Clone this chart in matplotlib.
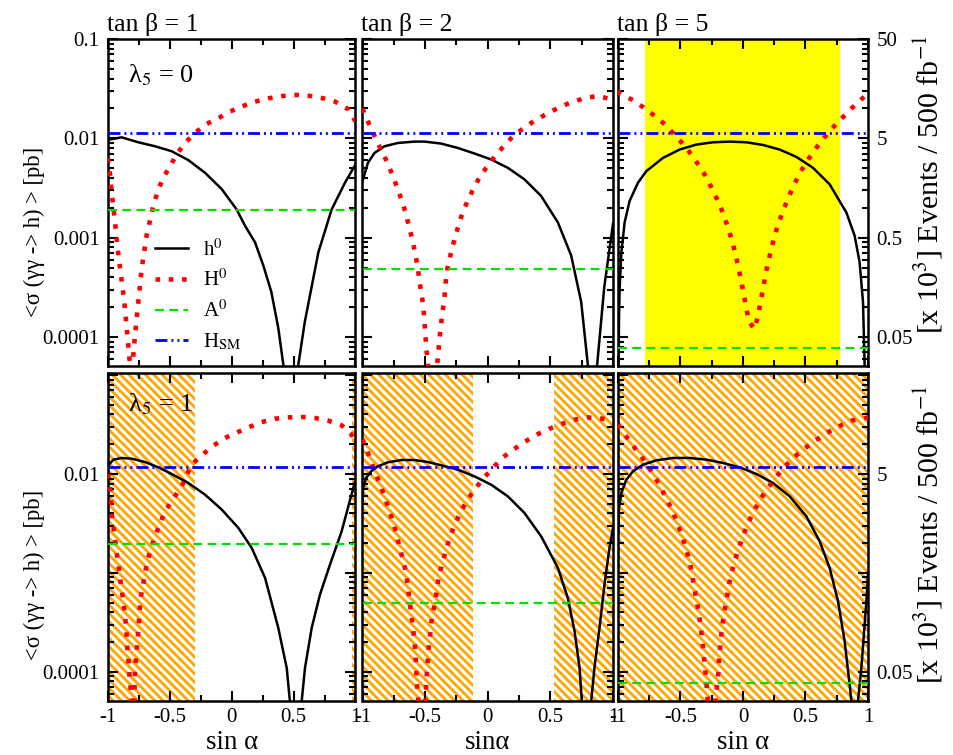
import numpy as np
import matplotlib
matplotlib.use("Agg")
import matplotlib.pyplot as plt
from matplotlib.ticker import FixedLocator, FuncFormatter, NullFormatter

plt.rcParams['font.family'] = ['Liberation Serif', 'DejaVu Serif']
plt.rcParams['mathtext.fontset'] = 'stix'
plt.rcParams['hatch.linewidth'] = 2.2

# ---------------- data (log10 of <sigma> in pb) ----------------
# tan(beta)=1, lambda5=0
x_h_t1_l0 = [-1.0, -0.99, -0.89, -0.755, -0.62, -0.486, -0.35, -0.216, -0.08, 0.04, 0.107, 0.188, 0.255, 0.32, 0.376, 0.417, 0.478, 0.538, 0.59, 0.70, 0.807, 0.915, 1.0]
y_h_t1_l0 = [-2.02, -2.013, -1.99, -2.04, -2.08, -2.13, -2.22, -2.347, -2.513, -2.717, -2.88, -3.047, -3.28, -3.547, -3.91, -4.28, -7.0, -4.28, -3.85, -3.147, -2.717, -2.447, -2.263]
x_H_t1_l0 = [-1.0, -0.99, -0.97, -0.943, -0.922, -0.895, -0.868, -0.849, -0.822, -0.81, -0.795, -0.782, -0.755, -0.728, -0.688, -0.634, -0.593, -0.553, -0.499, -0.445, -0.378, -0.297, -0.216, -0.108, -0.014, 0.08, 0.188, 0.296, 0.417, 0.525, 0.632, 0.74, 0.834, 0.942, 1.0]
y_H_t1_l0 = [-2.2, -2.28, -2.547, -2.847, -3.113, -3.38, -3.647, -3.913, -4.28, -5.0, -4.18, -3.98, -3.647, -3.313, -2.98, -2.68, -2.513, -2.397, -2.28, -2.163, -2.047, -1.947, -1.863, -1.797, -1.73, -1.68, -1.63, -1.597, -1.573, -1.563, -1.573, -1.597, -1.63, -1.707, -1.83]

# tan(beta)=2, lambda5=0
x_h_t2_l0 = [-1.0, -0.957, -0.904, -0.824, -0.718, -0.585, -0.505, -0.372, -0.239, -0.106, 0.027, 0.16, 0.293, 0.426, 0.56, 0.666, 0.746, 0.8, 0.836, 0.872, 0.93, 1.0]
y_h_t2_l0 = [-2.43, -2.247, -2.147, -2.08, -2.047, -2.033, -2.033, -2.053, -2.097, -2.153, -2.213, -2.297, -2.413, -2.58, -2.847, -3.18, -3.647, -4.29, -7.0, -4.3, -3.5, -2.86]
x_H_t2_l0 = [-1.0, -0.984, -0.939, -0.891, -0.846, -0.798, -0.758, -0.718, -0.683, -0.651, -0.625, -0.598, -0.577, -0.558, -0.545, -0.526, -0.513, -0.505, -0.497, -0.489, -0.478, -0.44, -0.404, -0.393, -0.383, -0.372, -0.359, -0.345, -0.337, -0.324, -0.3, -0.273, -0.244, -0.212, -0.172, -0.127, -0.074, -0.013, 0.054, 0.12, 0.195, 0.28, 0.373, 0.472, 0.568, 0.666, 0.772, 0.879, 0.985, 1.0]
y_H_t2_l0 = [-1.70, -1.753, -1.88, -2.013, -2.13, -2.253, -2.38, -2.513, -2.637, -2.773, -2.907, -3.04, -3.173, -3.307, -3.447, -3.58, -3.713, -3.853, -3.997, -4.13, -4.263, -5.0, -4.28, -4.13, -3.997, -3.863, -3.73, -3.597, -3.463, -3.32, -3.187, -3.053, -2.923, -2.79, -2.663, -2.54, -2.413, -2.297, -2.187, -2.09, -1.987, -1.903, -1.823, -1.753, -1.69, -1.637, -1.597, -1.573, -1.607, -1.62]

# tan(beta)=5, lambda5=0
x_h_t5_l0 = [-1.0, -0.992, -0.987, -0.973, -0.947, -0.907, -0.84, -0.773, -0.64, -0.507, -0.373, -0.24, -0.107, 0.027, 0.16, 0.293, 0.427, 0.56, 0.693, 0.827, 0.893, 0.933, 0.96, 0.973, 0.985]
y_h_t5_l0 = [-5.0, -3.813, -3.513, -3.147, -2.847, -2.63, -2.447, -2.33, -2.197, -2.113, -2.063, -2.04, -2.033, -2.04, -2.067, -2.113, -2.187, -2.297, -2.463, -2.747, -2.98, -3.247, -3.647, -4.28, -7.0]
x_H_t5_l0 = [-1.0, -0.987, -0.885, -0.795, -0.707, -0.621, -0.547, -0.472, -0.408, -0.344, -0.285, -0.24, -0.192, -0.152, -0.117, -0.085, -0.059, -0.035, -0.013, 0.008, 0.027, 0.048, 0.093, 0.12, 0.139, 0.16, 0.179, 0.2, 0.227, 0.253, 0.285, 0.323, 0.363, 0.408, 0.459, 0.512, 0.576, 0.64, 0.715, 0.792, 0.867, 0.947, 1.0]
y_H_t5_l0 = [-1.52, -1.547, -1.613, -1.69, -1.773, -1.863, -1.967, -2.067, -2.173, -2.29, -2.407, -2.53, -2.653, -2.78, -2.913, -3.04, -3.173, -3.307, -3.447, -3.58, -3.713, -3.847, -3.92, -3.787, -3.653, -3.52, -3.38, -3.253, -3.113, -2.98, -2.853, -2.72, -2.597, -2.47, -2.34, -2.23, -2.113, -2.007, -1.897, -1.797, -1.7, -1.607, -1.55]

# tan(beta)=1, lambda5=1
x_h_t1_l1 = [-1.0, -0.992, -0.957, -0.89, -0.809, -0.701, -0.593, -0.486, -0.351, -0.216, -0.081, 0.053, 0.161, 0.269, 0.376, 0.444, 0.47, 0.515, 0.565, 0.592, 0.646, 0.713, 0.794, 0.888, 1.0]
y_h_t1_l1 = [-1.95, -1.906, -1.855, -1.838, -1.845, -1.879, -1.933, -2.0, -2.091, -2.209, -2.36, -2.545, -2.747, -3.05, -3.556, -3.96, -4.3, -7.0, -4.3, -3.96, -3.556, -3.219, -2.916, -2.58, -2.057]
x_H_t1_l1 = [-1.0, -0.984, -0.97, -0.957, -0.943, -0.93, -0.916, -0.903, -0.89, -0.876, -0.863, -0.855, -0.849, -0.844, -0.836, -0.83, -0.822, -0.809, -0.8, -0.782, -0.768, -0.755, -0.748, -0.741, -0.728, -0.706, -0.688, -0.655, -0.62, -0.58, -0.539, -0.472, -0.405, -0.365, -0.329, -0.243, -0.162, -0.068, 0.032, 0.134, 0.242, 0.35, 0.457, 0.565, 0.673, 0.78, 0.888, 0.969, 1.0]
y_H_t1_l1 = [-2.0, -2.108, -2.394, -2.529, -2.663, -2.798, -2.916, -3.05, -3.168, -3.286, -3.421, -3.539, -3.64, -3.758, -3.859, -3.976, -4.111, -4.263, -5.0, -3.976, -3.791, -3.589, -3.45, -3.32, -3.185, -3.05, -2.906, -2.764, -2.63, -2.505, -2.377, -2.249, -2.125, -2.02, -1.912, -1.811, -1.727, -1.643, -1.586, -1.529, -1.475, -1.441, -1.428, -1.424, -1.434, -1.461, -1.508, -1.603, -1.72]

# tan(beta)=2, lambda5=1
x_h_t2_l1 = [-1.0, -0.995, -0.971, -0.931, -0.878, -0.798, -0.691, -0.585, -0.478, -0.372, -0.239, -0.106, 0.027, 0.16, 0.293, 0.426, 0.56, 0.639, 0.693, 0.733, 0.751, 0.79, 0.826, 0.852, 0.892, 0.932, 0.972, 1.0]
y_h_t2_l1 = [-2.25, -2.141, -2.04, -1.973, -1.923, -1.882, -1.859, -1.859, -1.879, -1.912, -1.956, -2.024, -2.108, -2.226, -2.394, -2.63, -2.949, -3.253, -3.589, -3.96, -4.296, -7.0, -4.296, -3.96, -3.556, -3.118, -2.747, -2.545]
x_H_t2_l1 = [-1.0, -0.949, -0.912, -0.872, -0.832, -0.798, -0.763, -0.731, -0.705, -0.678, -0.651, -0.638, -0.625, -0.611, -0.598, -0.585, -0.577, -0.572, -0.566, -0.558, -0.525, -0.492, -0.486, -0.478, -0.47, -0.457, -0.446, -0.425, -0.406, -0.393, -0.364, -0.335, -0.303, -0.263, -0.218, -0.164, -0.1, -0.031, 0.041, 0.115, 0.203, 0.293, 0.389, 0.488, 0.589, 0.693, 0.799, 0.914, 1.0]
y_H_t2_l1 = [-1.65, -1.811, -1.939, -2.067, -2.199, -2.327, -2.461, -2.596, -2.731, -2.865, -3.0, -3.135, -3.269, -3.411, -3.545, -3.69, -3.825, -3.966, -4.101, -4.236, -5.0, -4.152, -4.01, -3.875, -3.731, -3.596, -3.455, -3.32, -3.178, -3.044, -2.909, -2.774, -2.64, -2.512, -2.387, -2.266, -2.148, -2.04, -1.939, -1.838, -1.754, -1.677, -1.603, -1.545, -1.495, -1.451, -1.428, -1.441, -1.46]

# tan(beta)=5, lambda5=1
x_h_t5_l1 = [-1.0, -0.992, -0.973, -0.933, -0.88, -0.8, -0.693, -0.56, -0.427, -0.293, -0.16, -0.027, 0.107, 0.24, 0.373, 0.507, 0.613, 0.693, 0.76, 0.813, 0.853, 0.867, 0.893, 0.92, 0.947, 0.987, 1.0]
y_h_t5_l1 = [-2.6, -2.343, -2.192, -2.057, -1.973, -1.906, -1.862, -1.838, -1.838, -1.855, -1.889, -1.933, -2.0, -2.091, -2.226, -2.428, -2.68, -2.949, -3.286, -3.69, -4.128, -4.296, -7.0, -4.296, -3.96, -3.286, -3.017]
x_H_t5_l1 = [-1.0, -0.987, -0.925, -0.861, -0.795, -0.733, -0.677, -0.627, -0.576, -0.533, -0.496, -0.461, -0.432, -0.408, -0.392, -0.373, -0.352, -0.339, -0.325, -0.315, -0.304, -0.293, -0.285, -0.25, -0.219, -0.208, -0.197, -0.192, -0.181, -0.171, -0.157, -0.139, -0.12, -0.101, -0.072, -0.04, -0.005, 0.035, 0.08, 0.133, 0.192, 0.259, 0.328, 0.408, 0.491, 0.579, 0.669, 0.765, 0.867, 0.973, 1.0]
y_H_t5_l1 = [-1.50, -1.529, -1.636, -1.744, -1.855, -1.973, -2.091, -2.215, -2.343, -2.471, -2.596, -2.731, -2.865, -3.0, -3.135, -3.269, -3.411, -3.545, -3.684, -3.825, -3.96, -4.101, -4.236, -5.0, -4.28, -4.145, -4.01, -3.875, -3.731, -3.596, -3.455, -3.32, -3.178, -3.044, -2.909, -2.774, -2.646, -2.512, -2.394, -2.269, -2.152, -2.04, -1.933, -1.832, -1.744, -1.663, -1.586, -1.519, -1.461, -1.434, -1.43]

# constant levels (pb)
hsm_level = [0.0113, 0.0117]                 # per row (lambda5 = 0, 1)
a0_level = [[0.00192, 0.00048, 7.7e-5],      # lambda5 = 0 : tanb = 1, 2, 5
            [0.00198, 0.00049, 7.75e-5]]     # lambda5 = 1
# shaded regions in sin(alpha)
yellow_band = [[], [], [(-0.78, 0.78)]]
hatch_bands = [[(-1.0, -0.30), (0.97, 1.0)],
               [(-1.0, -0.12), (0.525, 1.0)],
               [(-1.0, 1.0)]]

tanb_titles = ["tan β = 1", "tan β = 2", "tan β = 5"]
lam_labels = ["λ$_5$ = 0", "λ$_5$ = 1"]
xlabels = ["sin α", "sinα", "sin α"]
xticks = [-1, -0.5, 0, 0.5, 1]
ylim_rows = [(5.1e-5, 0.1), (5.06e-5, 0.105)]
ylab_rows = [[0.1, 0.01, 0.001, 0.0001], [0.01, 0.0001]]
rlab_rows = [[50, 5, 0.5, 0.05], [5, 0.05]]
events_factor = 500.0   # [x 10^3 events / 500 fb^-1] per pb

curves = {
    (0, 0): (x_h_t1_l0, y_h_t1_l0, x_H_t1_l0, y_H_t1_l0),
    (0, 1): (x_h_t2_l0, y_h_t2_l0, x_H_t2_l0, y_H_t2_l0),
    (0, 2): (x_h_t5_l0, y_h_t5_l0, x_H_t5_l0, y_H_t5_l0),
    (1, 0): (x_h_t1_l1, y_h_t1_l1, x_H_t1_l1, y_H_t1_l1),
    (1, 1): (x_h_t2_l1, y_h_t2_l1, x_H_t2_l1, y_H_t2_l1),
    (1, 2): (x_h_t5_l1, y_h_t5_l1, x_H_t5_l1, y_H_t5_l1),
}

# ---------------- figure ----------------
W, H = 954, 755
fig = plt.figure(figsize=(W / 100, H / 100), dpi=100)
col_px = [(108, 355.5), (362.5, 613), (618, 868)]
row_px = [(39, 366), (373, 701)]

TICK_FS = 15
red_dots = dict(color='#ff0000', lw=3.3, linestyle=(0, (1.0, 1.9)), dash_capstyle='butt')
green_dash = dict(color='#00e000', lw=1.6, linestyle=(0, (4.0, 2.4)))
blue_dd = dict(color='#0000ff', lw=2.0, linestyle=(0, (4.3, 1.45, 0.7, 1.45, 0.7, 1.45)))
left_label_y = [0.41, 0.385]
right_label_y = [0.553, 0.506]

for r in range(2):
    for c in range(3):
        x0, x1 = col_px[c]
        y0, y1 = row_px[r]
        ax = fig.add_axes([x0 / W, 1 - y1 / H, (x1 - x0) / W, (y1 - y0) / H])
        ax.set_yscale('log')
        ax.set_xlim(-1, 1)
        ax.set_ylim(*ylim_rows[r])

        if r == 0:
            for a, b in yellow_band[c]:
                ax.axvspan(a, b, facecolor='#ffff00', edgecolor='none', zorder=0)
        else:
            for a, b in hatch_bands[c]:
                ax.axvspan(a, b, facecolor='#ffa500', edgecolor='white', hatch='\\\\\\\\',
                           lw=0, zorder=0)

        xh, yh, xH, yH = curves[(r, c)]
        ax.plot(xh, np.power(10.0, yh), color='black', lw=1.8, zorder=3, label='h$^0$')
        ax.plot(xH, np.power(10.0, yH), zorder=3, label='H$^0$', **red_dots)
        ax.plot([-1, 1], [a0_level[r][c]] * 2, zorder=3, label='A$^0$', **green_dash)
        ax.plot([-1, 1], [hsm_level[r]] * 2, zorder=3, label='H$_{\\mathrm{SM}}$', **blue_dd)

        # ticks
        ax.xaxis.set_major_locator(FixedLocator(xticks))
        ax.xaxis.set_minor_locator(FixedLocator([-0.75, -0.25, 0.25, 0.75]))
        ax.xaxis.set_major_formatter(FuncFormatter(lambda v, p: '%g' % v))
        ax.yaxis.set_major_locator(FixedLocator([1e-4, 1e-3, 1e-2, 1e-1]))
        ax.yaxis.set_minor_locator(FixedLocator(
            [m * 10.0 ** e for e in range(-5, 0) for m in range(2, 10)]))
        ax.yaxis.set_minor_formatter(NullFormatter())
        labs = ylab_rows[r]
        rlabs = rlab_rows[r]
        if c == 2:
            ax.yaxis.set_major_formatter(FuncFormatter(
                lambda v, p, rl=rlabs: ('%g' % round(v * events_factor, 6))
                if any(abs(v * events_factor - q) < 1e-9 for q in rl) else ''))
        else:
            ax.yaxis.set_major_formatter(FuncFormatter(
                lambda v, p, ll=labs: ('%g' % v if v >= 1e-3 else '0.0001')
                if any(abs(v - q) < 1e-12 for q in ll) else ''))
        ax.tick_params(which='both', direction='in', top=True, right=True,
                       labelsize=TICK_FS, width=1.5)
        ax.tick_params(which='major', length=7)
        ax.tick_params(which='minor', length=4)
        ax.tick_params(axis='x', which='major', pad=5, labelbottom=(r == 1))
        ax.tick_params(axis='y', which='major', pad=6,
                       labelleft=(c == 0), labelright=(c == 2))
        for s in ax.spines.values():
            s.set_linewidth(1.8)

        if r == 0:
            ax.text(-0.005, 1.008, tanb_titles[c], transform=ax.transAxes,
                    ha='left', va='bottom', fontsize=18.5)
        if c == 0:
            ax.text(0.08, 0.89 if r == 0 else 0.905, lam_labels[r], transform=ax.transAxes,
                    ha='left', va='center', fontsize=19)
            ax.set_ylabel('<σ (γγ -> h) > [pb]', fontsize=16.3)
            ax.yaxis.set_label_coords(-0.255, left_label_y[r])
        if c == 2:
            ax.yaxis.set_label_position('right')
            ax.set_ylabel('[x 10$^3$] Events / 500 fb$^{-1}$', fontsize=21.5)
            ax.yaxis.set_label_coords(1.175, right_label_y[r])
        if r == 1:
            ax.set_xlabel(xlabels[c], fontsize=19.3, labelpad=2)
        if r == 0 and c == 0:
            ax.legend(loc='upper left', bbox_to_anchor=(0.19, 0.388), frameon=False,
                      fontsize=15, handlelength=1.6, handletextpad=0.7,
                      labelspacing=0.45, borderaxespad=0, borderpad=0)

fig.savefig('out.png', dpi=100)
